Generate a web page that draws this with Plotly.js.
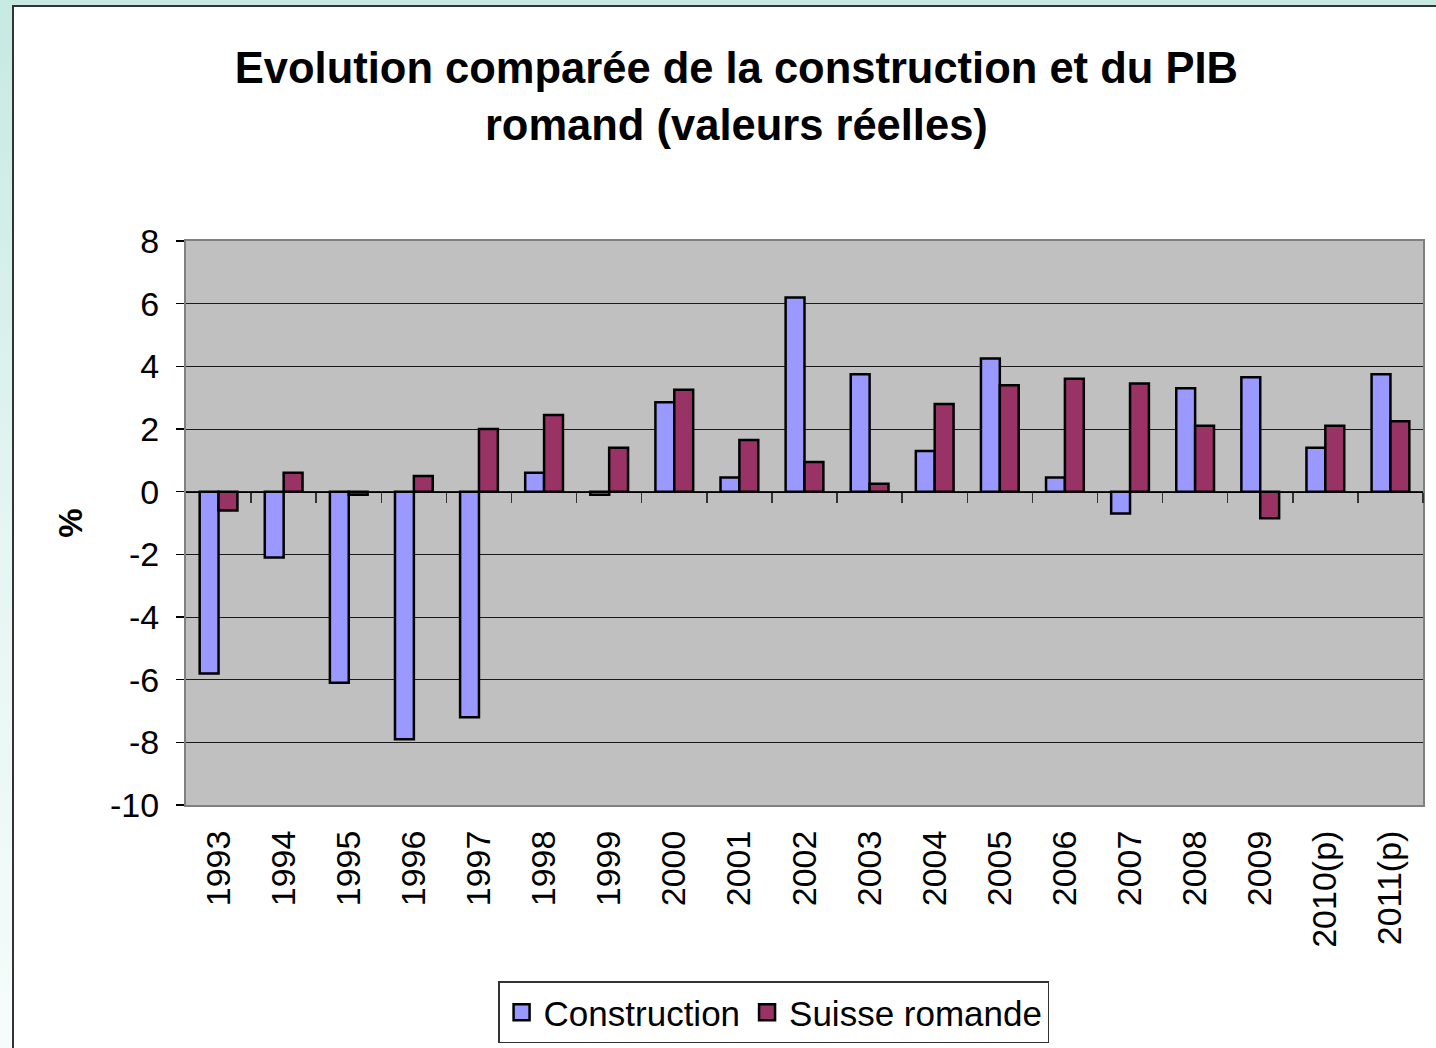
<!DOCTYPE html>
<html>
<head>
<meta charset="utf-8">
<script src="https://cdn.plot.ly/plotly-3.0.1.min.js"></script>
<style>
  html, body { margin: 0; padding: 0; width: 1436px; height: 1048px; overflow: hidden; }
  body { background: linear-gradient(to bottom, #c6e9e2 0%, #e4f5f2 50%, #f6fcfb 100%); position: relative; }
  #frame { position: absolute; left: 12px; top: 5px; width: 1430px; height: 1050px; background: #ffffff; border-left: 2px solid #333; border-top: 2px solid #333; }
  #chart { width: 1422px; height: 1041px; }
</style>
</head>
<body>
<div id="frame"><div id="chart"></div></div>
<script>
const categories = ["1993","1994","1995","1996","1997","1998","1999","2000","2001","2002","2003","2004","2005","2006","2007","2008","2009","2010(p)","2011(p)"];
const construction = [-5.8, -2.1, -6.1, -7.9, -7.2, 0.6, -0.1, 2.85, 0.45, 6.2, 3.75, 1.3, 4.25, 0.45, -0.7, 3.3, 3.65, 1.4, 3.75];
const suisseRomande = [-0.6, 0.6, -0.1, 0.5, 2.0, 2.45, 1.4, 3.25, 1.65, 0.95, 0.25, 2.8, 3.4, 3.6, 3.45, 2.1, -0.85, 2.1, 2.25];
const yTicks = [8, 6, 4, 2, 0, -2, -4, -6, -8, -10];
const yTickText = ["8", "6", "4", "2", "0", "-2", "-4", "-6", "-8", "-10"];
const seriesNames = ["Construction", "Suisse romande"];
const seriesColors = ["#9999FF", "#993366"];

const FONT = "Liberation Sans, Arial, sans-serif";
const boundaries = categories.slice(1).map((c, i) => i + 0.5).concat([categories.length - 0.5]);
const seriesValues = [construction, suisseRomande];

const bars = seriesValues.map((vals, k) => ({
  type: "bar", name: seriesNames[k], x: categories, y: vals,
  marker: { color: seriesColors[k], line: { color: "#000000", width: 2.5 } },
  showlegend: false, hoverinfo: "x+y"
}));

const legendEntries = seriesNames.map((nm, k) => ({
  type: "scatter", mode: "markers", name: nm, x: [null], y: [null],
  marker: { symbol: "square", size: 19, color: seriesColors[k], line: { color: "#000000", width: 2.5 } },
  showlegend: true, hoverinfo: "skip"
}));

const helper = {
  type: "scatter", x: [-0.5, categories.length - 0.5], y: [0, 0], xaxis: "x2", yaxis: "y",
  mode: "lines", line: { color: "rgba(0,0,0,0)", width: 0 }, showlegend: false, hoverinfo: "skip"
};

const layout = {
  width: 1422, height: 1041,
  margin: { l: 172, r: 13, t: 234, b: 243 },
  paper_bgcolor: "#ffffff",
  plot_bgcolor: "#c0c0c0",
  font: { family: FONT, color: "#000000", size: 34 },
  title: {
    text: "<b>Evolution comparée de la construction et du PIB<br>romand (valeurs réelles)</b>",
    font: { family: FONT, size: 43.5, color: "#000000" },
    xref: "container", x: 0.508, xanchor: "center",
    yref: "container", y: 0.927, yanchor: "top"
  },
  barmode: "group",
  bargap: 0.42,
  bargroupgap: 0,
  showlegend: true,
  legend: {
    orientation: "h", x: 0.475, xanchor: "center", xref: "paper",
    yref: "container", y: 0.064, yanchor: "top",
    bordercolor: "#333333", borderwidth: 1.5, bgcolor: "#ffffff",
    font: { family: FONT, size: 35, color: "#000000" },
    itemsizing: "trace", itemwidth: 34, tracegroupgap: 0
  },
  xaxis: {
    type: "category",
    range: [-0.5, categories.length - 0.5],
    tickangle: -90,
    ticks: "",
    showgrid: false,
    showline: true, linecolor: "#808080", linewidth: 2, mirror: true,
    tickfont: { family: FONT, size: 34 },
    ticklabelstandoff: 10,
    zeroline: false
  },
  xaxis2: {
    overlaying: "x", anchor: "free", position: 10 / 18, side: "bottom",
    range: [-0.5, categories.length - 0.5],
    tickmode: "array", tickvals: boundaries,
    ticks: "outside", ticklen: 10, tickwidth: 1.5, tickcolor: "#333333",
    showticklabels: false, showgrid: false, zeroline: false,
    showline: true, linecolor: "#000000", linewidth: 1.5
  },
  yaxis: {
    range: [-10, 8],
    tickmode: "array", tickvals: yTicks, ticktext: yTickText,
    ticks: "outside", ticklen: 8, tickwidth: 1.5, tickcolor: "#000000",
    showgrid: true, gridcolor: "#1a1a1a", gridwidth: 1,
    zeroline: false,
    showline: true, linecolor: "#808080", linewidth: 2, mirror: true,
    tickfont: { family: FONT, size: 34 },
    ticklabelstandoff: 10,
    title: { text: "<b>%</b>", font: { family: FONT, size: 33 }, standoff: 18 }
  }
};

Plotly.newPlot("chart", [helper].concat(bars, legendEntries), layout, { displayModeBar: false, staticPlot: true });
</script>
</body>
</html>
